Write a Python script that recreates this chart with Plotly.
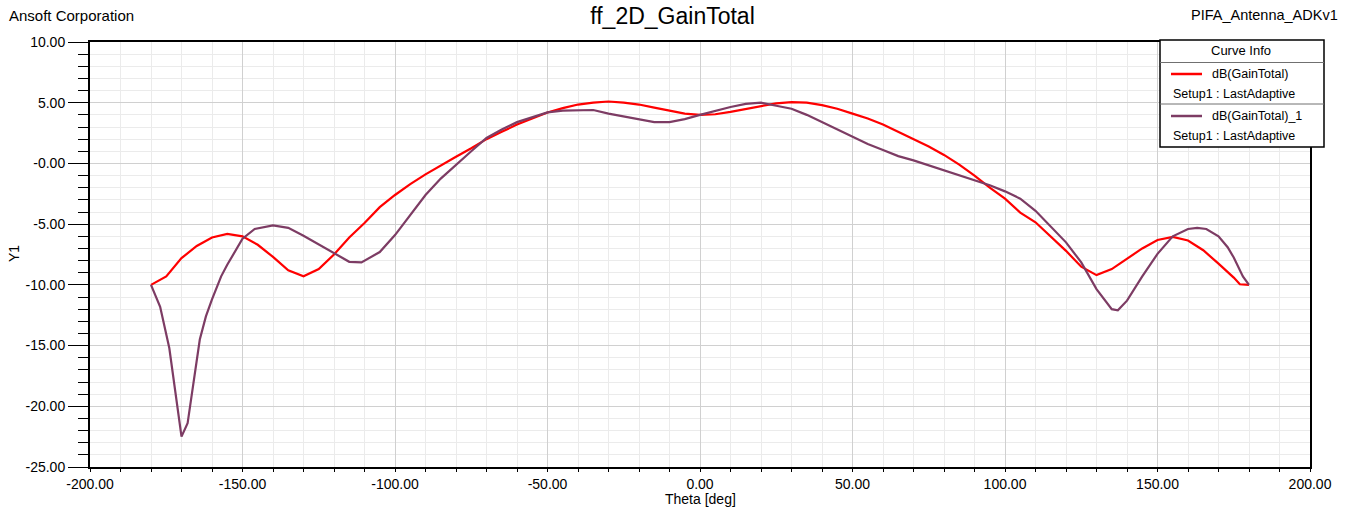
import plotly.graph_objects as go

# ---------------- data ----------------
theta_red = [-180, -175, -170, -165, -160, -155, -150, -145, -140, -135, -130, -125, -120, -115,
             -110, -105, -100, -95, -90, -85, -80, -75, -70, -65, -60, -55, -50, -45, -40, -35,
             -30, -25, -20, -15, -10, -5, 0, 5, 10, 15, 20, 25, 30, 35, 40, 45, 50, 55, 60, 65,
             70, 75, 80, 85, 90, 95, 100, 105, 110, 115, 120, 125, 130, 135, 140, 145, 150, 155,
             160, 165, 170, 175, 177, 180]
gain_red = [-10.0, -9.3, -7.8, -6.8, -6.1, -5.8, -6.0, -6.7, -7.7, -8.8, -9.3, -8.7, -7.5, -6.1,
            -4.9, -3.6, -2.6, -1.7, -0.9, -0.15, 0.55, 1.25, 2.0, 2.6, 3.2, 3.7, 4.2, 4.55, 4.85, 5.0,
            5.1, 5.0, 4.85, 4.6, 4.35, 4.1, 4.0, 4.05, 4.25, 4.5, 4.75, 4.95, 5.05, 5.0, 4.8, 4.5,
            4.1, 3.7, 3.2, 2.6, 2.05, 1.4, 0.7, -0.1, -1.0, -2.0, -2.9, -4.05, -4.85, -6.0,
            -7.2, -8.5, -9.2, -8.7, -7.85, -7.0, -6.3, -6.05, -6.35, -7.15, -8.25, -9.4, -9.95, -10.0]

theta_purple = [-180, -177, -174, -172, -170, -168, -166, -164, -162, -160, -157, -155, -150, -146,
                -140, -135, -130, -125, -120, -115, -111, -105, -100, -95, -90, -85, -80, -75,
                -70, -65, -60, -55, -50, -45, -40, -35, -30, -25, -20, -15, -10, -5, 0, 5, 10,
                15, 20, 25, 30, 35, 40, 45, 50, 55, 60, 65, 70, 75, 80, 85, 90, 95, 100, 105,
                110, 115, 120, 125, 130, 135, 137, 140, 145, 150, 155, 160, 163, 166, 170, 173,
                175, 178, 180]
gain_purple = [-10.0, -11.8, -15.2, -18.8, -22.5, -21.4, -17.9, -14.5, -12.6, -11.2, -9.3, -8.35,
               -6.2, -5.4, -5.1, -5.3, -5.95, -6.65, -7.4, -8.1, -8.15, -7.3, -5.9, -4.2, -2.6,
               -1.25, -0.1, 1.0, 2.1, 2.8, 3.4, 3.8, 4.2, 4.35, 4.4, 4.4, 4.1, 3.85, 3.6, 3.4,
               3.4, 3.65, 4.0, 4.35, 4.65, 4.9, 5.0, 4.75, 4.5, 4.0, 3.4, 2.8, 2.15, 1.6, 1.1,
               0.6, 0.25, -0.15, -0.55, -0.95, -1.35, -1.8, -2.3, -2.9, -3.9, -5.2, -6.5, -8.15,
               -10.35, -12.0, -12.1, -11.3, -9.3, -7.45, -6.0, -5.4, -5.3, -5.4, -6.0, -6.9,
               -7.75, -9.3, -10.0]

series_names = ["dB(GainTotal)", "dB(GainTotal)_1"]
setup_label = "Setup1 : LastAdaptive"
series_colors = ["#FF0000", "#7D3C64"]

x_tickvals = [-200, -150, -100, -50, 0, 50, 100, 150, 200]
x_ticktext = ["-200.00", "-150.00", "-100.00", "-50.00", "0.00", "50.00", "100.00", "150.00", "200.00"]
y_tickvals = [10, 5, 0, -5, -10, -15, -20, -25]
y_ticktext = ["10.00", "5.00", "-0.00", "-5.00", "-10.00", "-15.00", "-20.00", "-25.00"]

# ---------------- layout geometry ----------------
W, H = 1345, 507
ML, MR, MT, MB = 90, 35, 42, 40
PW, PH = W - ML - MR, H - MT - MB
FONT = "Liberation Sans, Arial, sans-serif"


def px(X):
    return (X - ML) / PW


def py(Y):
    return (H - MB - Y) / PH


fig = go.Figure()
fig.add_trace(go.Scatter(x=theta_red, y=gain_red, mode="lines", name=series_names[0],
                         line=dict(color=series_colors[0], width=2.2), showlegend=False))
fig.add_trace(go.Scatter(x=theta_purple, y=gain_purple, mode="lines", name=series_names[1],
                         line=dict(color=series_colors[1], width=2.2), showlegend=False))

axis_common = dict(showline=True, linecolor="black", linewidth=2, mirror=True,
                   zeroline=False, gridcolor="#D0D0D0", gridwidth=1,
                   tickfont=dict(family=FONT, size=14, color="black"))

fig.update_xaxes(range=[-200, 200], tickvals=x_tickvals, ticktext=x_ticktext,
                 ticks="outside", ticklen=3, tickcolor="black",
                 minor=dict(dtick=10, tick0=0, showgrid=True, gridcolor="#EBEBEB",
                            ticks="outside", ticklen=3, tickcolor="black"),
                 **axis_common)
fig.update_yaxes(range=[-25, 10], tickvals=y_tickvals, ticktext=y_ticktext,
                 ticks="outside", ticklen=20, tickcolor="black",
                 minor=dict(dtick=1, tick0=0, showgrid=True, gridcolor="#EBEBEB",
                            ticks="outside", ticklen=10, tickcolor="black"),
                 **axis_common)

shapes = [
    dict(type="rect", xref="paper", yref="paper", x0=px(1160), x1=px(1324), y0=py(147), y1=py(40),
         line=dict(color="black", width=1.5), fillcolor="white", layer="above"),
    dict(type="line", xref="paper", yref="paper", x0=px(1160), x1=px(1324), y0=py(62.5), y1=py(62.5),
         line=dict(color="#707070", width=1), layer="above"),
    dict(type="line", xref="paper", yref="paper", x0=px(1160), x1=px(1324), y0=py(104), y1=py(104),
         line=dict(color="#707070", width=1), layer="above"),
]
for i, Yc in enumerate([74, 116]):
    shapes.append(dict(type="line", xref="paper", yref="paper", x0=px(1171), x1=px(1202),
                       y0=py(Yc), y1=py(Yc), line=dict(color=series_colors[i], width=2.5),
                       layer="above"))

annotations = [
    dict(text="Ansoft Corporation", xref="paper", yref="paper", x=px(7), y=py(15),
         xanchor="left", yanchor="middle", showarrow=False,
         font=dict(family=FONT, size=15, color="black")),
    dict(text="PIFA_Antenna_ADKv1", xref="paper", yref="paper", x=px(1340), y=py(15),
         xanchor="right", yanchor="middle", showarrow=False,
         font=dict(family=FONT, size=14.5, color="black")),
    dict(text="Theta [deg]", xref="paper", yref="paper", x=px(700), y=py(499),
         xanchor="center", yanchor="middle", showarrow=False,
         font=dict(family=FONT, size=14, color="black")),
    dict(text="Y1", xref="paper", yref="paper", x=px(14), y=py(254), textangle=-90,
         xanchor="center", yanchor="middle", showarrow=False,
         font=dict(family=FONT, size=14, color="black")),
    dict(text="Curve Info", xref="paper", yref="paper", x=px(1241), y=py(51),
         xanchor="center", yanchor="middle", showarrow=False,
         font=dict(family=FONT, size=13, color="black")),
]
for i, Yc in enumerate([74, 116]):
    annotations.append(dict(text=series_names[i], xref="paper", yref="paper", x=px(1210), y=py(Yc),
                            xanchor="left", yanchor="middle", showarrow=False,
                            font=dict(family=FONT, size=12.5, color="black")))
    annotations.append(dict(text=setup_label, xref="paper", yref="paper", x=px(1171), y=py(Yc + 20),
                            xanchor="left", yanchor="middle", showarrow=False,
                            font=dict(family=FONT, size=12.5, color="black")))

fig.update_layout(
    width=W, height=H,
    margin=dict(l=ML, r=MR, t=MT, b=MB),
    paper_bgcolor="white", plot_bgcolor="white",
    title=dict(text="ff_2D_GainTotal", x=0.5, xref="container", xanchor="center",
               y=1 - 16 / H, yref="container", yanchor="middle",
               font=dict(family=FONT, size=23, color="black")),
    shapes=shapes, annotations=annotations,
    showlegend=False,
)

fig.write_html("out.html",
               config={"displayModeBar": False},
               post_script="document.body.style.margin='0';document.body.style.overflow='hidden';")
